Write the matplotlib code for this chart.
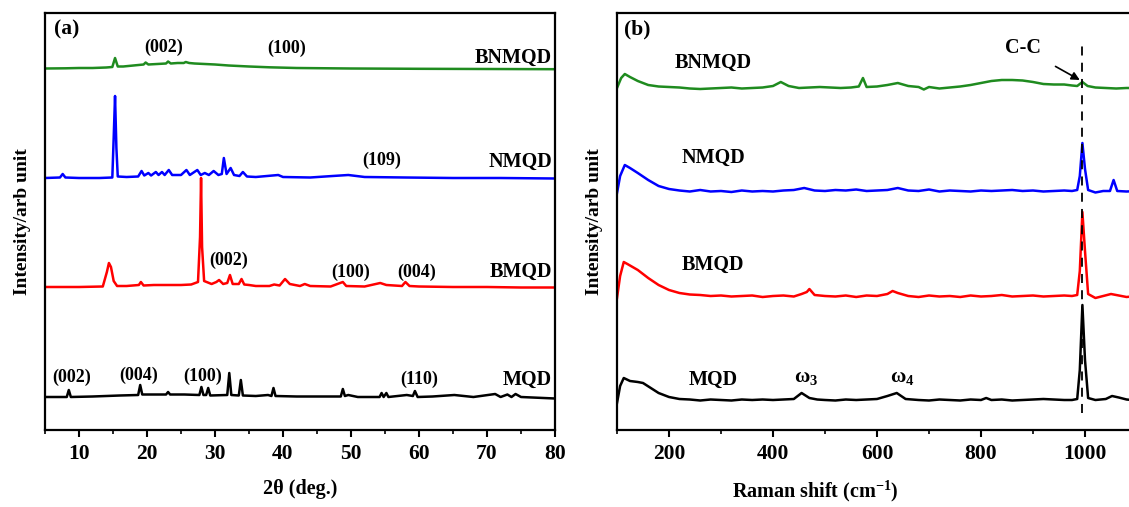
import matplotlib
matplotlib.use('Agg')
import matplotlib.pyplot as plt
from matplotlib.ticker import MultipleLocator

plt.rcParams['font.family'] = ['Liberation Serif', 'DejaVu Serif']
plt.rcParams['font.weight'] = 'bold'
plt.rcParams['mathtext.fontset'] = 'custom'
plt.rcParams['mathtext.rm'] = 'Liberation Serif:bold'
plt.rcParams['mathtext.bf'] = 'Liberation Serif:bold'
plt.rcParams['mathtext.it'] = 'Liberation Serif:bold'

# ---------------- (a) XRD data : 2theta, intensity above own baseline ----------------
xrd_bnmqd_x = [5, 8, 10, 12, 14, 14.9, 15.3, 15.7, 16.5, 18, 19.5, 19.8, 20.2, 21.5, 22.8, 23.1,
               23.5, 24.5, 25.4, 25.7, 26.2, 27, 28.5, 30, 32, 35, 38, 42, 50, 60, 70, 80]
xrd_bnmqd_y = [0.5, 0.7, 1, 1, 1.5, 2, 11, 2.5, 2.5, 3.5, 4.5, 6.5, 4.5, 5, 5.5, 7.5,
               5.5, 6, 6, 7, 6, 5.5, 5, 4.5, 3.5, 2.5, 1.7, 1, 0.5, 0.2, 0, -0.2]

xrd_nmqd_x = [5, 7.2, 7.6, 8.0, 10, 13, 14.9, 15.1, 15.3, 15.5, 15.7, 17, 18.7, 19.2, 19.6, 20.2,
              20.6, 21.3, 21.7, 22.2, 22.6, 23.2, 23.7, 25, 25.8, 26.3, 27.4, 27.9, 28.5, 29.1,
              29.8, 30.5, 31.0, 31.3, 31.7, 32.3, 32.8, 33.6, 34.1, 34.7, 36, 39.3, 40, 44, 47.3,
              49.6, 52, 58, 65, 72, 80]
xrd_nmqd_y = [0, 0.5, 4, 0.5, 0, 0, 0.5, 40, 82, 30, 1.5, 1, 1.5, 7, 2.5, 5,
              2.5, 6, 3, 6, 3, 8, 3, 3, 8, 3, 8, 3, 5, 3,
              7, 3, 4, 20, 4, 10, 3, 2, 6, 1.5, 1, 3, 1, 0.5, 2,
              3, 1, 0.5, 0, 0, -0.5]

xrd_bmqd_x = [5, 10, 13.5, 14.1, 14.4, 14.7, 15.1, 15.6, 17, 18.8, 19.1, 19.5, 21, 23, 25, 26.5,
              27.5, 27.8, 27.95, 28.1, 28.4, 29.5, 30.2, 30.6, 31.2, 31.8, 32.2, 32.6, 33.5, 33.9,
              34.3, 35, 36, 38, 38.7, 39.5, 40.3, 41, 42.5, 43.2, 44, 47, 48.8, 49.3, 52, 54.3,
              55.2, 57.5, 58, 58.6, 60, 65, 70, 75, 80]
xrd_bmqd_y = [0, 0, 0.5, 15, 24, 20, 6, 1, 1, 2, 5, 1.5, 2, 2, 2, 2.5,
              5, 50, 109, 40, 6, 3, 5, 7, 3, 4, 12, 3, 3, 8,
              2.5, 2, 1, 1, 2.5, 1.5, 8, 3, 1, 3, 1, 0.5, 5, 1, 0.5, 4,
              2, 1, 5, 1, 0.5, 0, 0, -0.5, -0.5]

xrd_mqd_x = [5, 8.2, 8.5, 8.8, 12, 16, 18.7, 19.0, 19.3, 21, 22.8, 23.1, 23.4, 25.5, 27.7, 28.0,
             28.3, 28.7, 29.0, 29.3, 31.8, 32.1, 32.4, 33.5, 33.8, 34.1, 36, 37.8, 38.3, 38.6,
             38.9, 42, 46, 48.5, 48.8, 49.1, 49.6, 51, 54.2, 54.5, 54.8, 55.2, 55.5, 58.2, 59.1,
             59.4, 59.8, 62, 65.2, 68, 71.2, 72, 73, 73.6, 74.2, 75, 80]
xrd_mqd_y = [0, 0, 7, 0, 0.5, 1.5, 2, 12, 2.5, 2.5, 2.5, 5, 2.5, 2.5, 2, 10,
             2, 2, 9, 1.5, 2, 24, 2, 1.5, 17, 1.5, 1, 2, 1, 9,
             1, 0.5, 0.5, 0.5, 8, 1, 2, 0, 0, 4, 0, 4, 0, 2, 1,
             6, 0, 0.5, 2, 0, 3, 0, 2.5, 0, 3, 0, -1.5]

# ---------------- (b) Raman data : shift (cm-1), intensity above own baseline ----------------
ram_bnmqd_x = [100, 108, 115, 125, 140, 160, 180, 200, 220, 240, 260, 280, 300, 320, 340, 360, 380,
               400, 415, 430, 450, 470, 490, 510, 530, 550, 565, 573, 580, 600, 620, 640, 660, 680,
               690, 700, 720, 740, 760, 780, 800, 820, 840, 860, 880, 900, 920, 940, 960, 975, 985,
               995, 1005, 1020, 1040, 1060, 1080, 1100, 1150, 1200]
ram_bnmqd_y = [0, 10, 14, 11, 7, 3, 1.5, 1, 0.5, -0.5, -1, -0.5, 0, 0.5, -0.5, 0, 0.5,
               2, 6, 2, 0, 0.5, 1, 0.5, 0, 0.5, 1.5, 10, 1, 1.5, 3, 5, 2, 1,
               -1.5, 1, -0.5, 0.5, 1.5, 3, 5, 7, 8, 8, 7.5, 6, 4, 3.5, 3.5, 2.5, 2,
               6, 2, 0.5, 0, -0.5, 0, 0, 0, 0]

ram_nmqd_x = [100, 106, 115, 125, 140, 160, 180, 200, 220, 240, 260, 280, 300, 320, 340, 360, 380,
              400, 420, 440, 460, 480, 500, 520, 540, 560, 580, 600, 620, 640, 660, 680, 700, 720,
              740, 760, 780, 800, 820, 840, 860, 880, 900, 920, 940, 960, 975, 985, 990, 995, 1000,
              1006, 1020, 1035, 1048, 1055, 1062, 1080, 1100, 1150, 1200]
ram_nmqd_y = [-2, 15, 26, 23, 18, 11, 5, 2, 0.5, -0.5, 1, -0.5, 0, -1, 0.5, -0.5, 0,
              -0.5, 0.5, 1, 3, 0.5, 0, 1, 0.5, 1.5, 0, 0.5, 1, 3, 0.5, 0, 1.5, -0.5,
              0.5, 0, -0.5, 0.5, 0, 0.5, 1, 0, 0.5, -0.5, 0, 0.5, 0, 1, 15, 48, 22,
              1, -1.5, 0, 0, 11, 0, -0.5, 0, 0, 0]

ram_bmqd_x = [100, 106, 113, 120, 140, 160, 180, 200, 220, 240, 260, 280, 300, 320, 340, 360, 380,
              400, 420, 440, 455, 465, 470, 480, 500, 520, 540, 560, 580, 600, 620, 630, 640, 660,
              680, 700, 720, 740, 760, 780, 800, 820, 840, 860, 880, 900, 920, 940, 960, 975, 985,
              990, 995, 1000, 1006, 1020, 1035, 1050, 1060, 1080, 1100, 1150, 1200]
ram_bmqd_y = [-2, 20, 34, 32, 26, 18, 11, 6, 3, 1.5, 1, 0, 0.5, -0.5, 0, 0.5, -1,
              0, 0.5, -0.5, 2, 4, 7, 1, 0, -0.5, 0.5, -1, 0.5, 0, 2, 5, 3, 0,
              -1, 0.5, -0.5, 0, -1, 0.5, -0.5, 0, 1, -0.5, 0, 0.5, -0.5, 0, 0.5, 0, 1,
              25, 84, 45, 2, -2, 0, 2, 1, -1, 0, 0, 0]

ram_mqd_x = [100, 106, 113, 125, 140, 150, 165, 180, 200, 220, 240, 260, 280, 300, 320, 340, 360,
             380, 400, 420, 440, 455, 470, 485, 500, 520, 540, 560, 580, 600, 620, 638, 655, 680,
             700, 720, 740, 760, 780, 800, 810, 820, 840, 860, 880, 900, 920, 940, 960, 975, 985,
             990, 995, 1000, 1006, 1020, 1040, 1052, 1065, 1080, 1100, 1150, 1200]
ram_mqd_y = [-3, 14, 22, 19, 18, 17, 12, 7, 3, 1, 0.5, -0.5, 0.5, 0, -0.5, 0.5, 0,
             0.5, 0, 0.5, 1, 7, 2, 0.5, 0, -0.5, 0.5, 0, 0.5, 1, 4, 7, 1, 0,
             -0.5, 0.5, 0, -0.5, 0.5, 0, 2, 0, 0.5, -0.5, 0, 0.5, 1, 0.5, 0, 0, 1,
             30, 95, 40, 2, 0, 1, 4, 2.5, 0.5, -0.5, 0, 0]

names = ['BNMQD', 'NMQD', 'BMQD', 'MQD']
colors = ['#1f8b1f', '#0000ff', '#ff0000', '#000000']
xrd_offsets = [361, 252, 143, 33]
ram_offsets = [342, 239, 134, 30]
cc_shift = 995

fig = plt.figure(figsize=(11.29, 5.07), dpi=100)
ax1 = fig.add_axes([45 / 1129, 77 / 507, 510 / 1129, 417 / 507])
ax2 = fig.add_axes([617 / 1129, 77 / 507, 572 / 1129, 417 / 507])

xrd = [(xrd_bnmqd_x, xrd_bnmqd_y), (xrd_nmqd_x, xrd_nmqd_y), (xrd_bmqd_x, xrd_bmqd_y), (xrd_mqd_x, xrd_mqd_y)]
ram = [(ram_bnmqd_x, ram_bnmqd_y), (ram_nmqd_x, ram_nmqd_y), (ram_bmqd_x, ram_bmqd_y), (ram_mqd_x, ram_mqd_y)]

for (x, y), off, c in zip(xrd, xrd_offsets, colors):
    ax1.plot(x, [v + off for v in y], color=c, lw=1.8)
for (x, y), off, c in zip(ram, ram_offsets, colors):
    ax2.plot(x, [v + off for v in y], color=c, lw=1.8)

fs = 14.5
# sample names
for n, yy in zip(names, [372, 268, 158, 50]):
    ax1.text(79.6, yy, n, ha='right', va='center', fontsize=fs, fontweight='bold')
for n, yy in zip(names, [367, 272, 165, 50]):
    ax2.text(285, yy, n, ha='center', va='center', fontsize=fs, fontweight='bold')

# miller indices
xrd_hkl = [('(002)', 22.4, 383), ('(100)', 40.6, 382), ('(109)', 54.5, 270),
           ('(002)', 32, 170), ('(100)', 49.9, 158), ('(004)', 59.7, 158),
           ('(002)', 8.9, 53), ('(004)', 18.7, 55), ('(100)', 28.2, 54), ('(110)', 60, 51)]
for t, xx, yy in xrd_hkl:
    ax1.text(xx, yy, t, ha='center', va='center', fontsize=13, fontweight='bold')

ax2.text(463, 53, r'ω$_{3}$', ha='center', va='center', fontsize=15, fontweight='bold')
ax2.text(648, 53, r'ω$_{4}$', ha='center', va='center', fontsize=15, fontweight='bold')

ax2.vlines(cc_shift, 17, 390, colors='black', linestyles=(0, (5, 4)), lw=1.3)
ax2.annotate('C-C', xy=(990, 350), xytext=(880, 382), ha='center', va='center',
             fontsize=fs, fontweight='bold',
             arrowprops=dict(arrowstyle='-|>', color='black', lw=1.2, shrinkA=10, shrinkB=0,
                             mutation_scale=12))

ax1.text(0.018, 0.985, '(a)', transform=ax1.transAxes, ha='left', va='top', fontsize=15.5, fontweight='bold')
ax2.text(0.012, 0.985, '(b)', transform=ax2.transAxes, ha='left', va='top', fontsize=15.5, fontweight='bold')

ax1.set_xlim(5, 80)
ax2.set_xlim(100, 1200)
for ax in (ax1, ax2):
    ax.set_ylim(0, 417)
    ax.set_yticks([])
    for s in ax.spines.values():
        s.set_linewidth(1.6)
    ax.tick_params(axis='x', which='major', direction='out', length=5, width=1.5,
                   labelsize=15.5, pad=5, top=False)
    ax.tick_params(axis='x', which='minor', direction='out', length=3, width=1.2, top=False)
    ax.set_ylabel('Intensity/arb unit', fontsize=14, fontweight='bold', labelpad=10)

ax1.xaxis.set_minor_locator(MultipleLocator(5))
ax2.xaxis.set_minor_locator(MultipleLocator(100))
ax1.set_xticks(range(10, 81, 10))
ax1.set_xticklabels([str(v) for v in range(10, 81, 10)], fontweight='bold')
ax2.set_xticks(range(200, 1001, 200))
ax2.set_xticklabels([str(v) for v in range(200, 1001, 200)], fontweight='bold')

ax1.set_xlabel('2θ (deg.)', fontsize=14.5, fontweight='bold')
ax2.set_xlabel(r'Raman shift (cm$^{-1}$)', fontsize=14.5, fontweight='bold')
ax1.xaxis.set_label_coords(0.5, -0.118)
ax2.xaxis.set_label_coords((815 - 617) / 572, -0.118)

fig.savefig('out.png', dpi=100)
